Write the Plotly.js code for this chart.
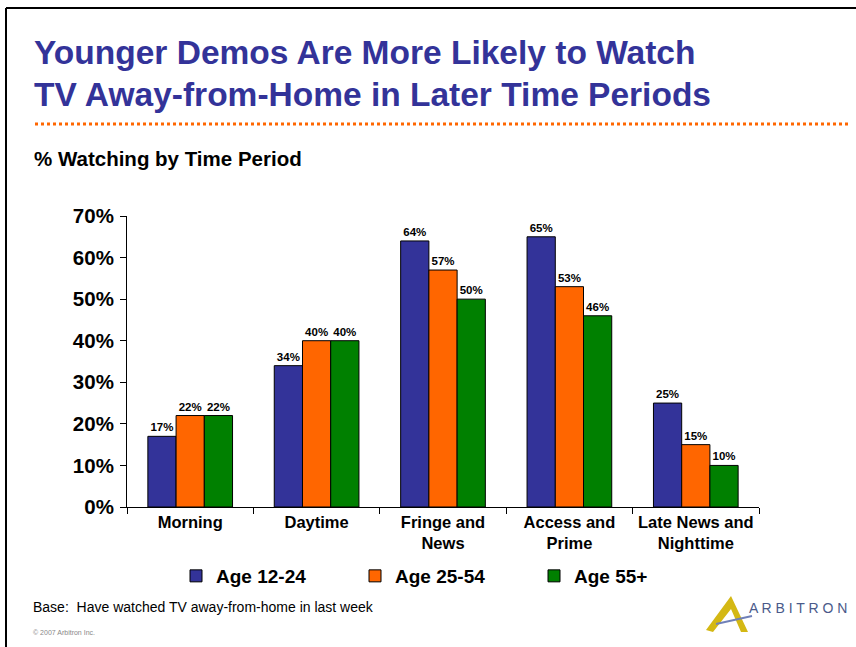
<!DOCTYPE html>
<html>
<head>
<meta charset="utf-8">
<script src="https://cdn.plot.ly/plotly-3.0.1.min.js"></script>
<style>html,body{margin:0;padding:0;background:#fff;}#chart{width:856px;height:647px;}</style>
</head>
<body>
<div id="chart"></div>
<script>
const categories = ["Morning", "Daytime", "Fringe and<br>News", "Access and<br>Prime", "Late News and<br>Nighttime"];
const seriesNames = ["Age 12-24", "Age 25-54", "Age 55+"];
const age1224 = [17, 34, 64, 65, 25];
const age2554 = [22, 40, 57, 53, 15];
const age55 = [22, 40, 50, 46, 10];
const yTicks = [0, 10, 20, 30, 40, 50, 60, 70];
const colors = ["#333399", "#FF6600", "#008000"];

const W = 856, H = 647;
const L = 127, R = 759, T = 216, B = 507;
const px = x => (x - L) / (R - L);
const py = y => (B - y) / (B - T);
const F = "Liberation Sans, Arial, sans-serif";

const vals = [age1224, age2554, age55];
const traces = vals.map((v, i) => ({
  type: "bar",
  name: seriesNames[i],
  x: categories,
  y: v,
  marker: {color: colors[i], line: {color: "#000", width: 1}},
  text: v.map(d => d + "%"),
  textposition: "outside",
  textfont: {family: F, size: 11.5, color: "#000", weight: "bold"},
  cliponaxis: false,
  hoverinfo: "skip"
}));

const layout = {
  width: W, height: H,
  margin: {l: L, r: W - R, t: T, b: H - B, pad: 0},
  paper_bgcolor: "#fff", plot_bgcolor: "#fff",
  barmode: "group",
  bargap: 0.33,
  bargroupgap: 0,
  showlegend: true,
  font: {family: F},
  legend: {
    orientation: "h",
    x: px(176), xanchor: "left",
    y: py(576), yanchor: "middle",
    font: {family: F, size: 19, color: "#000", weight: "bold"},
    entrywidth: 134, entrywidthmode: "pixels",
    itemwidth: 30,
    tracegroupgap: 0,
    bgcolor: "rgba(0,0,0,0)"
  },
  xaxis: {
    type: "category",
    tickson: "boundaries",
    ticks: "outside", ticklen: 6, tickcolor: "#000",
    showline: true, linecolor: "#000", linewidth: 1,
    showgrid: false, zeroline: false,
    tickfont: {family: F, size: 16.5, color: "#000", weight: "bold"},
    fixedrange: true
  },
  yaxis: {
    range: [0, 70],
    tickvals: yTicks,
    ticktext: yTicks.map(t => t + "%"),
    ticks: "outside", ticklen: 6, tickcolor: "#000",
    showline: true, linecolor: "#000", linewidth: 1,
    showgrid: false, zeroline: false,
    tickfont: {family: F, size: 20.5, color: "#000", weight: "bold"},
    ticklabelstandoff: 2,
    fixedrange: true
  },
  shapes: [
    {type: "line", xref: "paper", yref: "paper", x0: px(6), x1: px(900), y0: py(8), y1: py(8), line: {color: "#000", width: 2}},
    {type: "line", xref: "paper", yref: "paper", x0: px(6), x1: px(6), y0: py(8), y1: py(700), line: {color: "#000", width: 2}},
    {type: "line", xref: "paper", yref: "paper", x0: px(35), x1: px(848), y0: py(124), y1: py(124), line: {color: "#FF6600", width: 3, dash: "dot"}},
    {type: "path", xref: "paper", yref: "paper",
     path: `M ${px(706)} ${py(630)} L ${px(731)} ${py(596)} L ${px(748)} ${py(632)} L ${px(741)} ${py(632)} L ${px(731)} ${py(609)} L ${px(713)} ${py(632)} Z`,
     fillcolor: "#D4B814", line: {width: 0}},
    {type: "line", xref: "paper", yref: "paper", x0: px(716), x1: px(752), y0: py(624), y1: py(616), line: {color: "#7080B8", width: 2}}
  ],
  annotations: [
    {text: "Younger Demos Are More Likely to Watch", xref: "paper", yref: "paper", x: px(32), y: py(52), xanchor: "left", yanchor: "middle", showarrow: false,
     font: {family: F, size: 33.5, color: "#333399", weight: "bold"}},
    {text: "TV Away-from-Home in Later Time Periods", xref: "paper", yref: "paper", x: px(32), y: py(95), xanchor: "left", yanchor: "middle", showarrow: false,
     font: {family: F, size: 33.5, color: "#333399", weight: "bold"}},
    {text: "% Watching by Time Period", xref: "paper", yref: "paper", x: px(32), y: py(158), xanchor: "left", yanchor: "middle", showarrow: false,
     font: {family: F, size: 20.5, color: "#000", weight: "bold"}},
    {text: "Base:  Have watched TV away-from-home in last week", xref: "paper", yref: "paper", x: px(31), y: py(607), xanchor: "left", yanchor: "middle", showarrow: false,
     font: {family: F, size: 14, color: "#000"}},
    {text: "© 2007 Arbitron Inc.", xref: "paper", yref: "paper", x: px(31), y: py(632), xanchor: "left", yanchor: "middle", showarrow: false,
     font: {family: F, size: 7, color: "#888"}},
    {text: "A R B I T R O N", xref: "paper", yref: "paper", x: px(747), y: py(608), xanchor: "left", yanchor: "middle", showarrow: false,
     font: {family: F, size: 14, color: "#4A5A8A"}}
  ]
};

Plotly.newPlot("chart", traces, layout, {displayModeBar: false, staticPlot: true});
</script>
</body>
</html>
